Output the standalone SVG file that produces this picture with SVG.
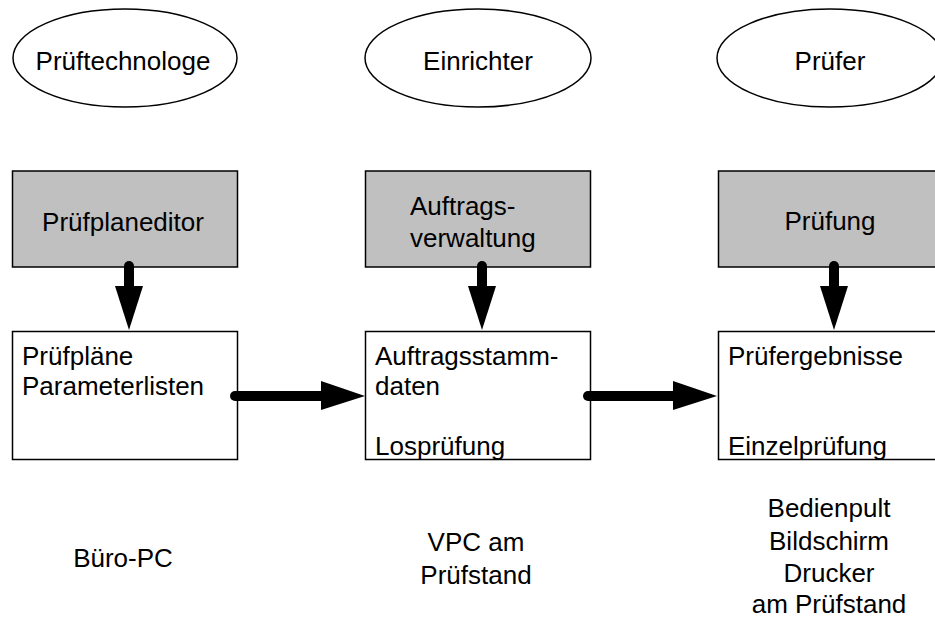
<svg xmlns="http://www.w3.org/2000/svg" width="935" height="619" viewBox="0 0 935 619">
<style>
text{font-family:"Liberation Sans",Arial,sans-serif;font-size:26px;fill:#000}
.c{text-anchor:middle}
.ell{fill:#fff;stroke:#000;stroke-width:1.5}
.gray{fill:#c0c0c0;stroke:#000;stroke-width:1.5}
.white{fill:#fff;stroke:#000;stroke-width:1.5}
.shaft{stroke:#000;stroke-width:10;stroke-linecap:round;fill:none}
.head{fill:#000}
</style>
<defs>
<clipPath id="clipB2"><rect x="365" y="331" width="226" height="128"/></clipPath>
<clipPath id="clipB3"><rect x="718" y="331" width="217" height="128"/></clipPath>
</defs>
<rect width="935" height="619" fill="#fff"/>
<g id="actor-prueftechnologe"><ellipse class="ell" cx="125" cy="58" rx="112" ry="49"/><text class="c" x="123" y="70">Prüftechnologe</text></g>
<g id="actor-einrichter"><ellipse class="ell" cx="478" cy="58" rx="113" ry="49"/><text class="c" x="478" y="70">Einrichter</text></g>
<g id="actor-pruefer"><ellipse class="ell" cx="830" cy="58" rx="113" ry="49"/><text class="c" x="830" y="70">Prüfer</text></g>

<g id="box-pruefplaneditor"><rect class="gray" x="12.5" y="171" width="225" height="96"/><text class="c" x="123" y="231">Prüfplaneditor</text></g>
<g id="box-auftragsverwaltung"><rect class="gray" x="365.5" y="171" width="225" height="96"/><text x="410" y="215">Auftrags-</text><text x="410" y="247">verwaltung</text></g>
<g id="box-pruefung"><rect class="gray" x="718.5" y="171" width="220" height="96"/><text class="c" x="830" y="230">Prüfung</text></g>

<g id="box-pruefplaene"><rect class="white" x="12.5" y="331.5" width="225" height="128"/><text x="22" y="365">Prüfpläne</text><text x="22" y="395">Parameterlisten</text></g>
<g id="box-auftragsstammdaten"><rect class="white" x="365.5" y="331.5" width="225" height="128"/><g clip-path="url(#clipB2)"><text x="375" y="365">Auftragsstamm-</text><text x="375" y="395">daten</text><text x="375" y="455">Losprüfung</text></g></g>
<g id="box-pruefergebnisse"><rect class="white" x="718.5" y="331.5" width="220" height="128"/><g clip-path="url(#clipB3)"><text x="728" y="365">Prüfergebnisse</text><text x="728" y="455">Einzelprüfung</text></g></g>

<g id="label-buero-pc"><text class="c" x="123" y="567">Büro-PC</text></g>
<g id="label-vpc"><text class="c" x="476" y="551">VPC am</text><text class="c" x="476" y="584">Prüfstand</text></g>
<g id="label-bedienpult"><text class="c" x="829" y="517">Bedienpult</text><text class="c" x="829" y="550">Bildschirm</text><text class="c" x="829" y="582">Drucker</text><text class="c" x="829" y="613">am Prüfstand</text></g>

<g id="connectors">
<line class="shaft" x1="129" y1="266" x2="129" y2="290"/><polygon class="head" points="115,286 143,286 129,330"/>
<line class="shaft" x1="482" y1="266" x2="482" y2="290"/><polygon class="head" points="468,286 496,286 482,330"/>
<line class="shaft" x1="834" y1="266" x2="834" y2="290"/><polygon class="head" points="820,286 848,286 834,330"/>
<line class="shaft" x1="235" y1="396" x2="325" y2="396"/><polygon class="head" points="321,381 321,410 365,396"/>
<line class="shaft" x1="588" y1="396" x2="677" y2="396"/><polygon class="head" points="673,381 673,410 717,396"/>
</g>
</svg>
